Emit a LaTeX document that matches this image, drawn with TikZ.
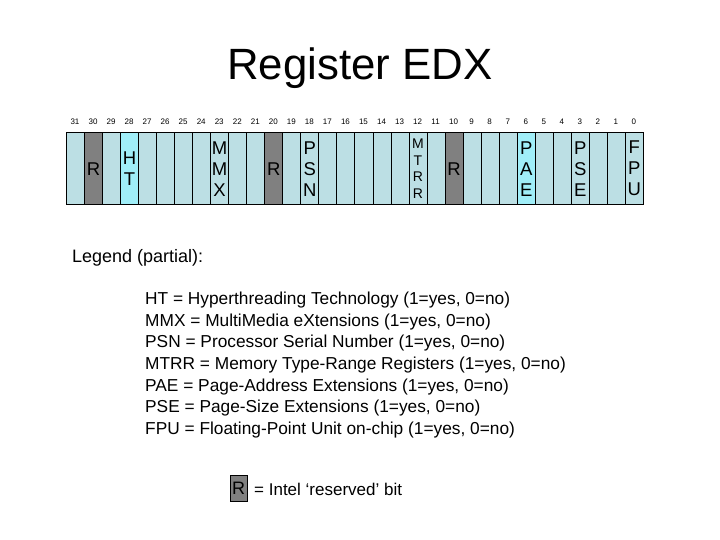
\documentclass[tikz,border=0pt]{standalone}
\usepackage{fontspec}
\setmainfont{Liberation Sans}
\begin{document}
\begin{tikzpicture}[x=1pt,y=-1pt,
  cell/.style={draw=black,line width=0.8pt,minimum width=18.03pt,minimum height=71.5pt,inner sep=0pt,anchor=north west,font=\fontsize{18.5}{21}\selectfont,align=center},
  num/.style={font=\fontsize{8}{8}\selectfont},
  leg/.style={anchor=west,font=\fontsize{17.3}{18}\selectfont,inner sep=0pt}]
\useasboundingbox (0,0) rectangle (720,540);
\definecolor{lite}{HTML}{BCDFE4}
\definecolor{hi}{HTML}{A0EEF8}
\definecolor{res}{HTML}{808080}
\node (title) at (360,68) {\fontsize{43.8}{46}\selectfont Register EDX};
\foreach \b in {0,...,31}{
  \pgfmathsetmacro{\xx}{66+(31-\b)*18.03}
  \node[cell,fill=lite] (c\b) at (\xx,132.5) {};
  \node[num] (n\b) at (\xx+9,122) {\b};
}
\foreach \b in {30,20,10}{\node[cell,fill=res] at (c\b.north west) {R};}
\node[cell,fill=hi] at (c28.north west) {H\\T};
\node[cell,fill=hi] at (c6.north west) {P\\A\\E};
\node[cell,fill=lite] at (c23.north west) {M\\M\\X};
\node[cell,fill=lite] at (c18.north west) {P\\S\\N};
\node[cell,fill=lite,font=\fontsize{14}{16.5}\selectfont] at (c12.north west) {M\\T\\R\\R};
\node[cell,fill=lite] at (c3.north west) {P\\S\\E};
\node[cell,fill=lite] at (c0.north west) {F\\P\\U};
\node[leg,font=\fontsize{18}{18}\selectfont] (lg) at (72,258) {Legend (partial):};
\node[leg] (l1) at (145,300) {HT = Hyperthreading Technology (1=yes, 0=no)};
\node[leg] (l2) at (145,322) {MMX = MultiMedia eXtensions (1=yes, 0=no)};
\node[leg] (l3) at (145,343.5) {PSN = Processor Serial Number (1=yes, 0=no)};
\node[leg] (l4) at (145,365) {MTRR = Memory Type-Range Registers (1=yes, 0=no)};
\node[leg] (l5) at (145,387) {PAE = Page-Address Extensions (1=yes, 0=no)};
\node[leg] (l6) at (145,408.5) {PSE = Page-Size Extensions (1=yes, 0=no)};
\node[leg] (l7) at (145,430) {FPU = Floating-Point Unit on-chip (1=yes, 0=no)};
\node[draw=black,fill=res,minimum width=17pt,minimum height=26pt,inner sep=0pt,anchor=north west,font=\fontsize{18}{18}\selectfont] (rbox) at (230,475) {R};
\node[leg,font=\fontsize{17}{17}\selectfont,anchor=west] (rtxt) at (254,489) {= Intel ‘reserved’ bit};
\end{tikzpicture}
\end{document}
